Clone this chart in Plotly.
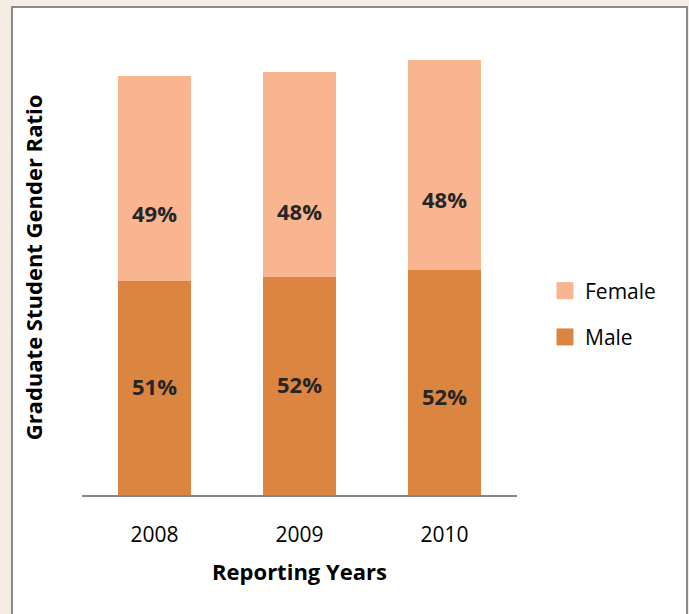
import plotly.graph_objects as go

# ---- data ----
years = ["2008", "2009", "2010"]
male = [214, 218, 225]          # relative enrolment (bar heights)
female = [205, 205, 210]
male_labels = ["51%", "52%", "52%"]
female_labels = ["49%", "48%", "48%"]

# label vertical placement (data units, as positioned in the original)
male_label_y = [109, 111, 99]
female_label_y = [282, 284, 296]

MALE_C, FEMALE_C = "#DB8540", "#F9B590"
FONT = "Open Sans"
ML, MR, MT, MB = 82, 172, 40, 119
W, H = 689, 614
pw, ph = W - ML - MR, H - MT - MB

fig = go.Figure()
fig.add_trace(go.Bar(x=years, y=male, name="Male", marker_color=MALE_C,
                     marker_line_width=0, hoverinfo="skip", showlegend=False))
fig.add_trace(go.Bar(x=years, y=female, name="Female", marker_color=FEMALE_C,
                     marker_line_width=0, hoverinfo="skip", showlegend=False))

# legend entries (square swatches)
for nm, col in [("Female", FEMALE_C), ("Male", MALE_C)]:
    fig.add_trace(go.Scatter(x=[None], y=[None], mode="markers", name=nm,
                             legendgroup=nm,
                             marker=dict(symbol="square", size=16, color=col,
                                         line=dict(color=col, width=1))))

for i in range(len(years)):
    fig.add_annotation(x=i, y=male_label_y[i], text="<b>%s</b>" % male_labels[i],
                       showarrow=False, font=dict(family=FONT, size=22, color="#262626"))
    fig.add_annotation(x=i, y=female_label_y[i], text="<b>%s</b>" % female_labels[i],
                       showarrow=False, font=dict(family=FONT, size=22, color="#262626"))

# white panel with grey border
def px_x(p):
    return (p - ML) / pw
def px_y(p):
    return (H - MB - p) / ph

fig.add_shape(type="rect", xref="paper", yref="paper",
              x0=px_x(12), x1=px_x(687), y0=px_y(640), y1=px_y(7),
              fillcolor="white", line=dict(color="#8a8a8a", width=2), layer="below")

fig.update_layout(
    width=W, height=H,
    margin=dict(l=ML, r=MR, t=MT, b=MB),
    paper_bgcolor="#F3EDE3",
    plot_bgcolor="rgba(0,0,0,0)",
    barmode="stack",
    bargap=0.49,
    font=dict(family=FONT, size=22, color="#000000"),
    showlegend=True,
    legend=dict(x=px_x(545), y=px_y(314), xanchor="left", yanchor="middle",
                traceorder="grouped", font=dict(size=21, family=FONT),
                itemwidth=30, tracegroupgap=16, bgcolor="rgba(0,0,0,0)"),
    xaxis=dict(type="category", range=[-0.5, 2.5], showline=True,
               linecolor="#868686", linewidth=1.5, ticks="",
               ticklabelstandoff=20, tickfont=dict(size=21, family=FONT),
               title=dict(text="<b>Reporting Years</b>", font=dict(size=22, family=FONT),
                          standoff=18)),
    yaxis=dict(range=[0, ph], showticklabels=False, showgrid=False, zeroline=False,
               showline=False,
               title=dict(text="<b>Graduate Student Gender Ratio</b>",
                          font=dict(size=22, family=FONT), standoff=32)),
)

fig.write_html("out.html", config={"displayModeBar": False},
               post_script="document.body.style.margin='0';document.body.style.background='#F3EDE3';")
